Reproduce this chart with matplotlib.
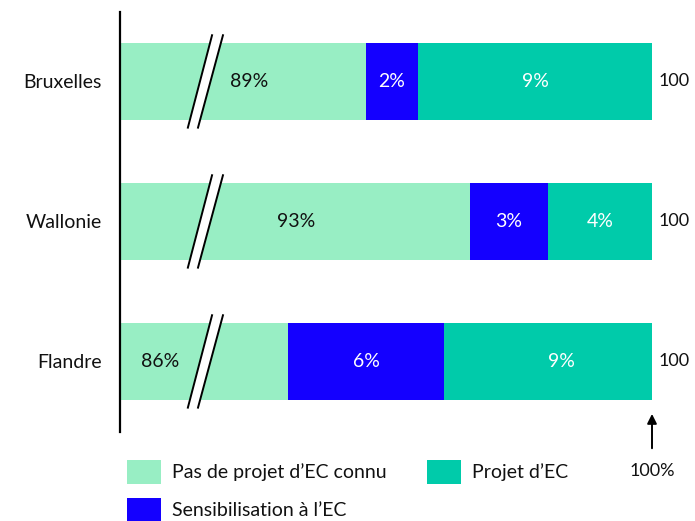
import matplotlib.pyplot as plt
from matplotlib.patches import Polygon, Rectangle

plt.rcParams['font.family'] = ['Lato', 'DejaVu Sans']

# Regions, bottom to top
regions = ['Flandre', 'Wallonie', 'Bruxelles']
no_project = [86, 93, 89]      # Pas de projet d'EC connu
awareness = [6, 3, 2]          # Sensibilisation à l'EC
project = [9, 4, 9]            # Projet d'EC
totals = [100, 100, 100]

# where the label of the truncated green segment sits (data x)
green_label_x = [81.1, 86.3, 84.5]

c_green = '#98eec4'
c_blue = '#1400ff'
c_teal = '#00cbaa'

W, H = 695, 521
fig = plt.figure(figsize=(W / 100, H / 100), dpi=100)
ax = fig.add_axes([120 / W, (H - 432) / H, 532 / W, 420 / H])

ys = list(range(len(regions)))
bh = 0.55
ax.barh(ys, no_project, height=bh, color=c_green, linewidth=0)
ax.barh(ys, awareness, left=no_project, height=bh, color=c_blue, linewidth=0)
left3 = [a + b for a, b in zip(no_project, awareness)]
ax.barh(ys, project, left=left3, height=bh, color=c_teal, linewidth=0)

ax.set_xlim(79.54, 100)
ax.set_ylim(-0.504, 2.496)

# axis break marks on the green segment
for y in ys:
    x1b, x1t, x2b, x2t = 82.15, 83.08, 82.54, 83.5
    yb, yt = y - 0.33, y + 0.33
    ax.add_patch(Polygon([(x1b, yb), (x1t, yt), (x2t, yt), (x2b, yb)],
                         closed=True, facecolor='white', edgecolor='none', zorder=3))
    ax.plot([x1b, x1t], [yb, yt], color='black', lw=1.4, zorder=4, clip_on=False)
    ax.plot([x2b, x2t], [yb, yt], color='black', lw=1.4, zorder=4, clip_on=False)

# segment labels
fs = 14
for i, y in enumerate(ys):
    ax.text(green_label_x[i], y, f'{no_project[i]}%', ha='center', va='center',
            fontsize=fs, color='#111111', zorder=5)
    ax.text(no_project[i] + awareness[i] / 2, y, f'{awareness[i]}%', ha='center',
            va='center', fontsize=fs, color='white', zorder=5)
    ax.text(left3[i] + project[i] / 2, y, f'{project[i]}%', ha='center',
            va='center', fontsize=fs, color='white', zorder=5)
    ax.annotate(f'{totals[i]}', xy=(100, y), xytext=(5, 0), textcoords='offset points',
                ha='left', va='center', fontsize=13, color='#111111',
                annotation_clip=False)

# 100% marker under the bars
ax.annotate('', xy=(100, -0.355), xytext=(100, -0.64), xycoords='data',
            arrowprops=dict(arrowstyle='-|>', color='black', lw=1.4,
                            mutation_scale=14),
            annotation_clip=False)
ax.text(100, -0.78, '100%', ha='center', va='center', fontsize=13, color='#111111',
        clip_on=False)

ax.set_yticks(ys)
ax.set_yticklabels(regions, fontsize=fs, color='#111111')
ax.tick_params(axis='y', length=0, pad=13)
ax.set_xticks([])
for s in ['top', 'right', 'bottom']:
    ax.spines[s].set_visible(False)
ax.spines['left'].set_linewidth(1.6)
ax.spines['left'].set_color('black')

# legend
legend_items = [
    (127, 460, c_green, 'Pas de projet d’EC connu'),
    (427, 460, c_teal, 'Projet d’EC'),
    (127, 498, c_blue, 'Sensibilisation à l’EC'),
]
for x0, y0, col, lab in legend_items:
    fig.add_artist(Rectangle((x0 / W, (H - y0 - 24) / H), 34 / W, 24 / H,
                             transform=fig.transFigure, facecolor=col,
                             edgecolor='none'))
    fig.text((x0 + 45) / W, (H - y0 - 12) / H, lab, ha='left', va='center',
             fontsize=fs, color='#111111')

fig.savefig('out.png', dpi=100)
